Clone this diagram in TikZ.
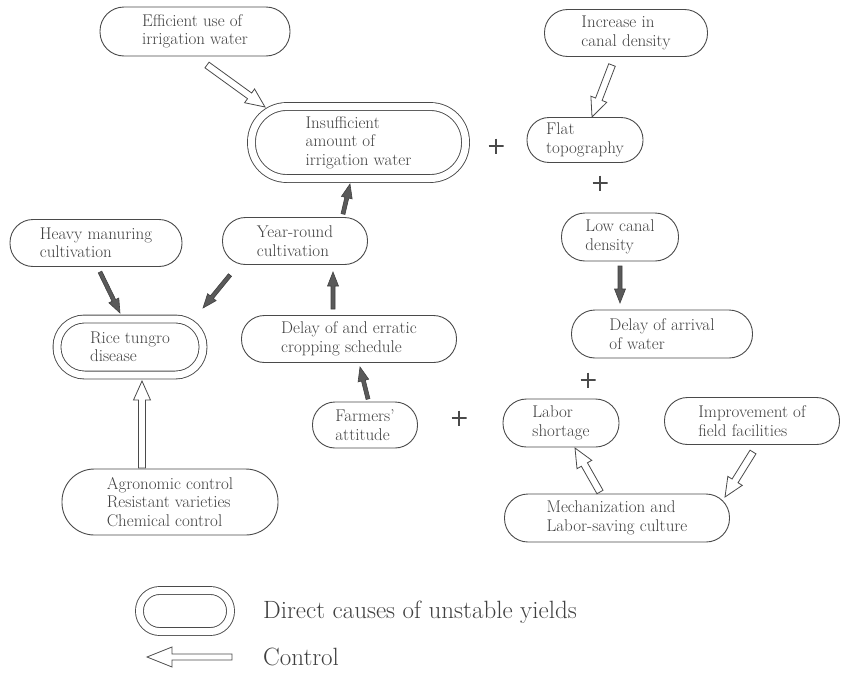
\documentclass[tikz,border=0pt]{standalone}
\usepackage{fontspec}
\usetikzlibrary{calc}
\definecolor{lc}{HTML}{4A4A4A}
\definecolor{tc}{HTML}{404040}
\definecolor{af}{HTML}{5A5A5A}
\tikzset{
 bx/.style 2 args={draw=lc, line width=0.9pt, minimum width=#1pt, minimum height=#2pt, rounded corners=0.49*#2pt, inner sep=0pt, align=left, text=tc, font=\fontsize{17}{18.5}\selectfont},
 dbl/.style={double=white, double distance=7pt},
 plus/.style={minimum size=15pt, inner sep=0pt, path picture={\draw[lc, line width=1.5pt] (path picture bounding box.north) -- (path picture bounding box.south) (path picture bounding box.west) -- (path picture bounding box.east);}},
 legtext/.style={text=tc, font=\fontsize{25}{28}\selectfont, anchor=west, inner sep=0pt},
 hollow/.style={draw=lc, line width=0.8pt, fill=white, line join=miter},
 darkarr/.style={draw=black!75, fill=af, line width=0.6pt, line join=miter},
}
\newcommand\fatarrow[6]{%
 \path let \p1=(#2), \p2=(#3), \n1={atan2(\y2-\y1,\x2-\x1)}, \n2={veclen(\x2-\x1,\y2-\y1)} in \pgfextra{\xdef\fa{\n1}\xdef\fl{\n2}\xdef\fx{\x1}\xdef\fy{\y1}};
 \draw[#1, shift={(\fx,\fy)}, rotate=\fa] (0,-#4) -- (\fl-#6,-#4) -- (\fl-#6,-#5) -- (\fl,0) -- (\fl-#6,#5) -- (\fl-#6,#4) -- (0,#4) -- cycle;}
\newcommand\hollowarrow[2]{\fatarrow{hollow}{#1}{#2}{3.5}{8.5}{19}}
\newcommand\darkarrow[2]{\fatarrow{darkarr}{#1}{#2}{2}{5.5}{14}}
\begin{document}
\begin{tikzpicture}[x=1pt,y=-1pt]
\useasboundingbox (0,0) rectangle (843,683);
% nodes
\node[bx={190}{49}] (eff) at (195,31.5) {Efficient use of\\irrigation water};
\node[bx={163}{47}] (inc) at (626,33) {Increase in\\canal density};
\node[bx={214}{72}, dbl] (ins) at (358.5,142.5) {Insufficient\\amount of\\irrigation water};
\node[bx={116}{45}] (flat) at (585,140) {Flat\\topography};
\node[bx={117}{48}] (low) at (620,237) {Low canal\\density};
\node[bx={181}{48}] (arr) at (662,334) {Delay of arrival\\of water};
\node[bx={116}{48}] (lab) at (561,423) {Labor\\shortage};
\node[bx={175}{47}] (imp) at (752,421) {Improvement of\\field facilities};
\node[bx={225}{48}] (mech) at (617,518) {Mechanization and\\Labor-saving culture};
\node[bx={172}{47}] (heavy) at (96,243) {Heavy manuring\\cultivation};
\node[bx={145}{47}] (year) at (295,241) {Year-round\\cultivation};
\node[bx={146}{56}, dbl] (rice) at (130,347) {Rice tungro\\disease};
\node[bx={215}{47}] (delay) at (349,339) {Delay of and erratic\\cropping schedule};
\node[bx={105}{46}] (farm) at (365,425) {Farmers'\\attitude};
\node[bx={216}{66}] (agro) at (170,502) {Agronomic control\\Resistant varieties\\Chemical control};
% plus signs
\node[plus] (p1) at (496,146) {};
\node[plus] (p2) at (600,183) {};
\node[plus] (p3) at (588,380) {};
\node[plus] (p4) at (459,418) {};
% arrow ends
\coordinate (effS) at (207,65);   \coordinate (insT) at (265,107);
\coordinate (incS) at (612,65);   \coordinate (flatT) at (592,117);
\coordinate (agroS) at (142,468); \coordinate (riceT) at (142,381);
\coordinate (mechS) at (600,492); \coordinate (labT) at (575,448);
\coordinate (impS) at (753,452);  \coordinate (mechT) at (725,497);
\coordinate (yearS) at (343,214); \coordinate (insB) at (350,184);
\coordinate (lowS) at (620,266);  \coordinate (arrT) at (620,303);
\coordinate (heavyS) at (100,272); \coordinate (riceA) at (120,313);
\coordinate (yearL) at (230,275); \coordinate (riceB) at (203,308);
\coordinate (delayS) at (333,309); \coordinate (yearT) at (333,272);
\coordinate (farmS) at (368,399); \coordinate (delayT) at (360,367);
% control arrows
\hollowarrow{effS}{insT}
\hollowarrow{incS}{flatT}
\hollowarrow{agroS}{riceT}
\hollowarrow{mechS}{labT}
\hollowarrow{impS}{mechT}
% causal arrows
\darkarrow{yearS}{insB}
\darkarrow{lowS}{arrT}
\darkarrow{heavyS}{riceA}
\darkarrow{yearL}{riceB}
\darkarrow{delayS}{yearT}
\darkarrow{farmS}{delayT}
% legend
\node[bx={91}{41}, dbl] (leg) at (185,611) {};
\node[legtext] (legt) at (263,612) {Direct causes of unstable yields};
\coordinate (ctlS) at (232,657); \coordinate (ctlT) at (147,657);
\fatarrow{hollow}{ctlS}{ctlT}{3}{10}{25}
\node[legtext] (ctl) at (263,657) {Control};
\end{tikzpicture}
\end{document}
